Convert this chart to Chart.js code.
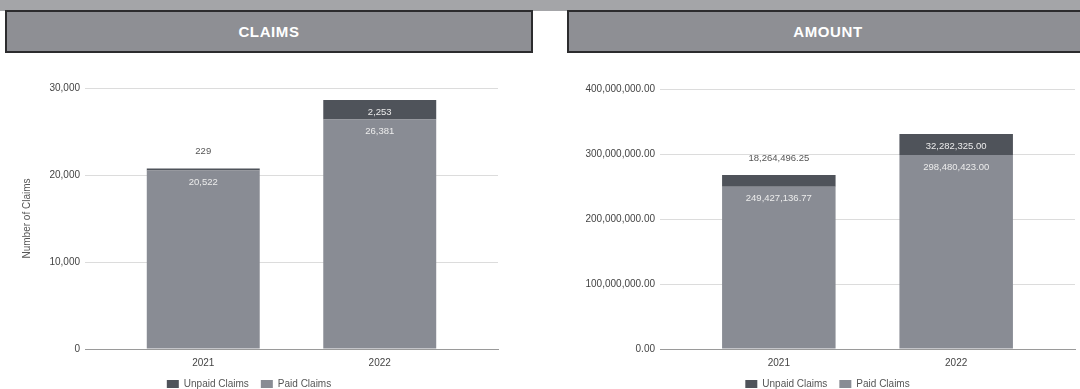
<!DOCTYPE html>
<html>
<head>
<meta charset="utf-8">
<script src="https://cdn.jsdelivr.net/npm/chart.js@4.4.1/dist/chart.umd.min.js"></script>
<style>
  html, body { margin: 0; padding: 0; background: #fff; width: 1080px; height: 389px; overflow: hidden; }
  body { position: relative; font-family: "Liberation Sans", Arial, sans-serif; }
  .band { position: absolute; left: 0; top: 0; width: 1080px; height: 11px; background: #a4a5a8; }
  .head {
    position: absolute; top: 10px; height: 43px; box-sizing: border-box;
    border: 2px solid #2c2c2e; background: #8e8f94;
    color: #fff; font-weight: bold; font-size: 15px; letter-spacing: 0.6px;
    display: flex; align-items: center; justify-content: center;
  }
  #headClaims { left: 5px; width: 528px; }
  #headAmount { left: 567px; width: 522px; }
  .box { position: absolute; top: 60px; height: 339px; }
  #boxClaims { left: 0; width: 518px; }
  #boxAmount { left: 580px; width: 500px; }
</style>
</head>
<body>
<div class="band"></div>
<div class="head" id="headClaims">CLAIMS</div>
<div class="head" id="headAmount">AMOUNT</div>
<div class="box" id="boxClaims"><canvas id="chartClaims"></canvas></div>
<div class="box" id="boxAmount"><canvas id="chartAmount"></canvas></div>
<script>
const years = [2021, 2022];

const paid_claims = [20522, 26381];
const unpaid_claims = [229, 2253];

const paid_amount = [249427136.77, 298480423.00];
const unpaid_amount = [18264496.25, 32282325.00];

const claimsTicks = [0, 10000, 20000, 30000];
const amountTicks = [0, 100000000, 200000000, 300000000, 400000000];

const PAID_COLOR = '#898c94';
const UNPAID_COLOR = '#4f535a';
const FONT = '"Liberation Sans", Arial, sans-serif';

function fmtInt(v) {
    return Number(v).toLocaleString('en-US');
}
function fmtMoney(v) {
    return Number(v).toLocaleString('en-US', {minimumFractionDigits: 2, maximumFractionDigits: 2});
}

function points(values) {
    return years.map(function(y, i) {
        return {x: y, y: values[i]};
    });
}

// writes each segment's value: inside near the top, or above the bar when the segment is too thin
const valueLabels = {
    id: 'valueLabels',
    afterDatasetsDraw(chart, args, opts) {
        const ctx = chart.ctx;
        ctx.save();
        ctx.font = '9.5px ' + FONT;
        ctx.textAlign = 'center';
        ctx.textBaseline = 'middle';
        chart.data.datasets.forEach(function(ds, di) {
            const meta = chart.getDatasetMeta(di);
            meta.data.forEach(function(bar, i) {
                const text = opts.format(ds.data[i].y);
                const h = bar.base - bar.y;
                if (h < 16) {
                    ctx.fillStyle = '#555';
                    ctx.fillText(text, bar.x, bar.y - 17);
                } else {
                    ctx.fillStyle = '#ececec';
                    ctx.fillText(text, bar.x, bar.y + 12);
                }
            });
        });
        ctx.restore();
    }
};

function makeConfig(paid, unpaid, tickValues, fmt, yWidth, padTop, yTitle) {
    return {
        type: 'bar',
        data: {
            datasets: [{
                label: 'Paid Claims',
                data: points(paid),
                backgroundColor: PAID_COLOR,
                borderWidth: 0,
                barPercentage: 0.8,
                categoryPercentage: 0.8
            }, {
                label: 'Unpaid Claims',
                data: points(unpaid),
                backgroundColor: UNPAID_COLOR,
                borderWidth: 0,
                barPercentage: 0.8,
                categoryPercentage: 0.8
            }]
        },
        options: {
            responsive: true,
            maintainAspectRatio: false,
            animation: false,
            layout: { padding: { top: padTop, right: yWidth === 85 ? 20 : 5, bottom: 0, left: 0 } },
            plugins: {
                legend: {
                    position: 'bottom',
                    reverse: true,
                    labels: {
                        boxWidth: 12,
                        boxHeight: 8,
                        padding: 12,
                        color: '#555',
                        font: { family: FONT, size: 10 }
                    }
                },
                tooltip: { enabled: false },
                valueLabels: { format: fmt }
            },
            scales: {
                x: {
                    type: 'linear',
                    stacked: true,
                    offset: false,
                    min: 2020.33,
                    max: 2022.67,
                    afterBuildTicks: function(scale) {
                        scale.ticks = years.map(function(y) { return {value: y}; });
                    },
                    afterFit: function(scale) { scale.height = 18; },
                    ticks: {
                        padding: 8,
                        color: '#444',
                        font: { family: FONT, size: 10 },
                        callback: function(v) { return String(v); }
                    },
                    grid: { display: false, drawTicks: false },
                    border: { display: true, color: '#9a9a9a', width: 1 }
                },
                y: {
                    stacked: true,
                    min: tickValues[0],
                    max: tickValues[tickValues.length - 1],
                    afterBuildTicks: function(scale) {
                        scale.ticks = tickValues.map(function(v) { return {value: v}; });
                    },
                    afterFit: function(scale) { scale.width = yWidth; },
                    ticks: {
                        padding: 5,
                        color: '#444',
                        font: { family: FONT, size: 10 },
                        callback: function(v) { return fmt(v); }
                    },
                    grid: {
                        drawTicks: false,
                        color: function(c) { return c.tick && c.tick.value === 0 ? '#9a9a9a' : '#dcdcdc'; }
                    },
                    border: { display: false },
                    title: {
                        display: !!yTitle,
                        text: yTitle || '',
                        color: '#555',
                        padding: { top: 21, bottom: 0 },
                        font: { family: FONT, size: 10 }
                    }
                }
            }
        },
        plugins: [valueLabels]
    };
}

const chartClaims = new Chart(document.getElementById('chartClaims'),
    makeConfig(paid_claims, unpaid_claims, claimsTicks, fmtInt, 85, 28, 'Number of Claims'));

const chartAmount = new Chart(document.getElementById('chartAmount'),
    makeConfig(paid_amount, unpaid_amount, amountTicks, fmtMoney, 80, 29, ''));
</script>
</body>
</html>
